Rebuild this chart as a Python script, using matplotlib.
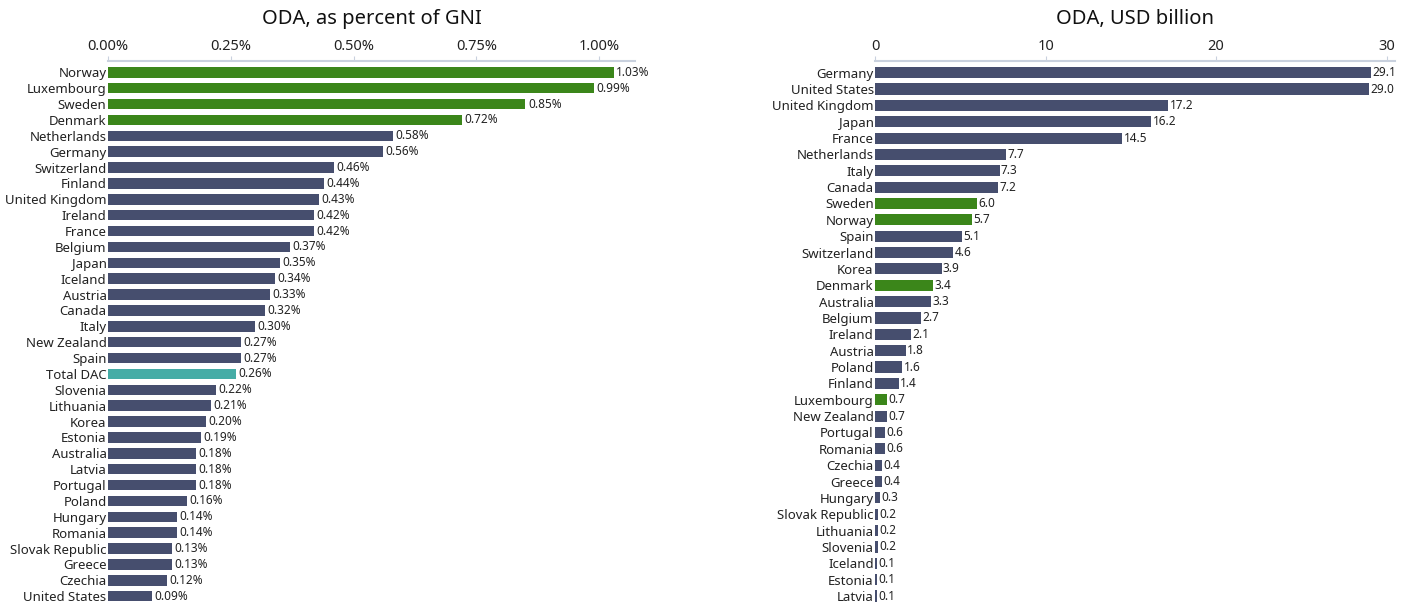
import matplotlib.pyplot as plt
from matplotlib.ticker import FuncFormatter

plt.rcParams['font.family'] = ['Noto Sans', 'DejaVu Sans']

# ODA as percent of GNI
gni_countries = ['Norway', 'Luxembourg', 'Sweden', 'Denmark', 'Netherlands', 'Germany',
                 'Switzerland', 'Finland', 'United Kingdom', 'Ireland', 'France', 'Belgium',
                 'Japan', 'Iceland', 'Austria', 'Canada', 'Italy', 'New Zealand', 'Spain',
                 'Total DAC', 'Slovenia', 'Lithuania', 'Korea', 'Estonia', 'Australia',
                 'Latvia', 'Portugal', 'Poland', 'Hungary', 'Romania', 'Slovak Republic',
                 'Greece', 'Czechia', 'United States']
gni_values = [1.03, 0.99, 0.85, 0.72, 0.58, 0.56, 0.46, 0.44, 0.43, 0.42, 0.42, 0.37,
              0.35, 0.34, 0.33, 0.32, 0.30, 0.27, 0.27, 0.26, 0.22, 0.21, 0.20, 0.19,
              0.18, 0.18, 0.18, 0.16, 0.14, 0.14, 0.13, 0.13, 0.12, 0.09]

# ODA in USD billion
usd_countries = ['Germany', 'United States', 'United Kingdom', 'Japan', 'France',
                 'Netherlands', 'Italy', 'Canada', 'Sweden', 'Norway', 'Spain',
                 'Switzerland', 'Korea', 'Denmark', 'Australia', 'Belgium', 'Ireland',
                 'Austria', 'Poland', 'Finland', 'Luxembourg', 'New Zealand', 'Portugal',
                 'Romania', 'Czechia', 'Greece', 'Hungary', 'Slovak Republic', 'Lithuania',
                 'Slovenia', 'Iceland', 'Estonia', 'Latvia']
usd_values = [29.1, 29.0, 17.2, 16.2, 14.5, 7.7, 7.3, 7.2, 6.0, 5.7, 5.1, 4.6, 3.9, 3.4,
              3.3, 2.7, 2.1, 1.8, 1.6, 1.4, 0.7, 0.7, 0.6, 0.6, 0.4, 0.4, 0.3, 0.2, 0.2,
              0.2, 0.1, 0.1, 0.1]

highlight = ['Norway', 'Luxembourg', 'Sweden', 'Denmark']
NAVY = '#464e6e'
GREEN = '#3b861a'
TEAL = '#45aca6'
AXIS = '#c9d1de'


def bar_color(name):
    if name in highlight:
        return GREEN
    if name == 'Total DAC':
        return TEAL
    return NAVY


def style_axis(ax, n, ticks, fmt, xmax, title):
    ax.set_ylim(n - 0.5, -0.7)
    ax.set_xlim(0, xmax)
    ax.set_xticks(ticks)
    ax.xaxis.set_major_formatter(FuncFormatter(fmt))
    ax.xaxis.tick_top()
    ax.tick_params(axis='x', length=3.5, color=AXIS, labelsize=10.5, pad=1.5, labelcolor='#222222')
    ax.tick_params(axis='y', length=0, labelsize=9.5, pad=1, labelcolor='#222222')
    for s in ['right', 'bottom', 'left']:
        ax.spines[s].set_visible(False)
    ax.spines['top'].set_color(AXIS)
    ax.spines['top'].set_linewidth(1.5)
    # title placed in figure pixels above the tick labels
    ax.text(0.5, 1 + 42 / 543, title, transform=ax.transAxes, ha='center', va='center',
            fontsize=14.5, color='#111111')


fig = plt.figure(figsize=(14.13, 6.06), dpi=100)

ax1 = fig.add_axes([0.0764, 0.003, 0.373, 0.896])
y1 = range(len(gni_countries))
ax1.barh(y1, gni_values, height=0.66, color=[bar_color(c) for c in gni_countries])
ax1.set_yticks(list(y1))
ax1.set_yticklabels(gni_countries)
for i, v in enumerate(gni_values):
    ax1.text(v + 0.005, i, f'{v:.2f}%', va='center', ha='left', fontsize=8.5, color='#222222')
style_axis(ax1, len(gni_countries), [0, 0.25, 0.5, 0.75, 1.0], lambda x, p: f'{x:.2f}%',
           1.073, 'ODA, as percent of GNI')

ax2 = fig.add_axes([0.6193, 0.003, 0.368, 0.896])
y2 = range(len(usd_countries))
ax2.barh(y2, usd_values, height=0.68, color=[bar_color(c) for c in usd_countries])
ax2.set_yticks(list(y2))
ax2.set_yticklabels(usd_countries)
for i, v in enumerate(usd_values):
    ax2.text(v + 0.08, i, f'{v:.1f}', va='center', ha='left', fontsize=8.5, color='#222222')
style_axis(ax2, len(usd_countries), [0, 10, 20, 30], lambda x, p: f'{x:.0f}', 30.5,
           'ODA, USD billion')

fig.savefig('out.png', dpi=100)
